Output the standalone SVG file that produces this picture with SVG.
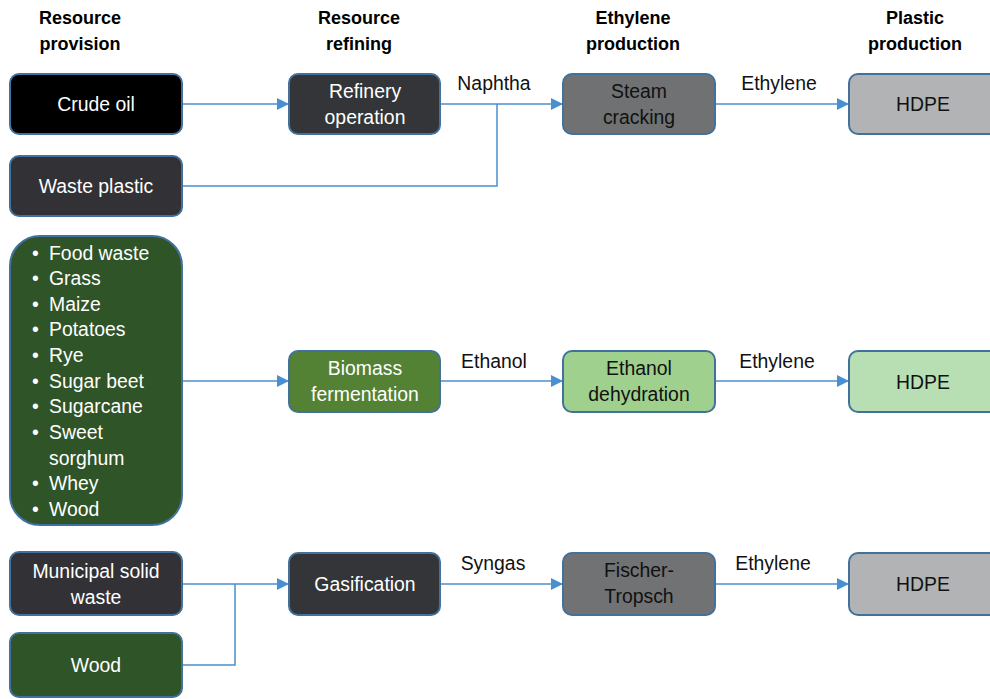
<svg xmlns="http://www.w3.org/2000/svg" width="990" height="699" viewBox="0 0 990 699">
<defs>
<marker id="arr" viewBox="0 0 10 10" refX="10" refY="5" markerWidth="12" markerHeight="12" markerUnits="userSpaceOnUse" orient="auto">
<path d="M0,0 L10,5 L0,10 z" fill="#4A8FD0"/>
</marker>
<style>
text{font-family:"Liberation Sans",Arial,sans-serif;font-size:19.4px;text-anchor:middle}
.h{font-weight:bold;fill:#000;font-size:18px}
.w{fill:#fff}
.k{fill:#111}
.lab{fill:#111}
rect{stroke:#41719C;stroke-width:2}
.c path,.c line{stroke:#4A8FD0;stroke-width:1.5;fill:none}
.li{text-anchor:start;fill:#fff}
</style>
</defs>
<rect x="0" y="0" width="990" height="699" fill="#fff" style="stroke:none"/>
<g id="headers">
<text class="h" x="80" y="24">Resource</text><text class="h" x="80" y="50">provision</text>
<text class="h" x="359" y="24">Resource</text><text class="h" x="359" y="50">refining</text>
<text class="h" x="633" y="24">Ethylene</text><text class="h" x="633" y="50">production</text>
<text class="h" x="915" y="24">Plastic</text><text class="h" x="915" y="50">production</text>
</g>
<g class="c" id="connectors">
<line x1="182" y1="104" x2="289" y2="104" marker-end="url(#arr)"/>
<path d="M182,186 H497 V104"/>
<line x1="440" y1="104" x2="563" y2="104" marker-end="url(#arr)"/>
<line x1="715" y1="104" x2="849" y2="104" marker-end="url(#arr)"/>
<line x1="182" y1="381" x2="289" y2="381" marker-end="url(#arr)"/>
<line x1="440" y1="381" x2="563" y2="381" marker-end="url(#arr)"/>
<line x1="715" y1="381" x2="849" y2="381" marker-end="url(#arr)"/>
<line x1="182" y1="584" x2="289" y2="584" marker-end="url(#arr)"/>
<path d="M182,665 H235 V584"/>
<line x1="440" y1="584" x2="563" y2="584" marker-end="url(#arr)"/>
<line x1="715" y1="584" x2="849" y2="584" marker-end="url(#arr)"/>
<text class="lab" x="494" y="90">Naphtha</text>
<text class="lab" x="779" y="90">Ethylene</text>
<text class="lab" x="494" y="368">Ethanol</text>
<text class="lab" x="777" y="368">Ethylene</text>
<text class="lab" x="493" y="570">Syngas</text>
<text class="lab" x="773" y="570">Ethylene</text>
</g>
<g id="crude-oil"><rect x="10" y="74" width="172" height="60" rx="9" fill="#000"/><text class="w" x="96" y="111">Crude oil</text></g>
<g id="waste-plastic"><rect x="10" y="156" width="172" height="60" rx="9" fill="#323236"/><text class="w" x="96" y="193">Waste plastic</text></g>
<g id="biomass-list"><rect x="10" y="236" width="172" height="289" rx="30" fill="#2F5427"/>
<text class="li" x="32" y="260">•</text><text class="li" x="49" y="260">Food waste</text>
<text class="li" x="32" y="285">•</text><text class="li" x="49" y="285">Grass</text>
<text class="li" x="32" y="311">•</text><text class="li" x="49" y="311">Maize</text>
<text class="li" x="32" y="336">•</text><text class="li" x="49" y="336">Potatoes</text>
<text class="li" x="32" y="362">•</text><text class="li" x="49" y="362">Rye</text>
<text class="li" x="32" y="388">•</text><text class="li" x="49" y="388">Sugar beet</text>
<text class="li" x="32" y="413">•</text><text class="li" x="49" y="413">Sugarcane</text>
<text class="li" x="32" y="439">•</text><text class="li" x="49" y="439">Sweet</text>
<text class="li" x="49" y="465">sorghum</text>
<text class="li" x="32" y="490">•</text><text class="li" x="49" y="490">Whey</text>
<text class="li" x="32" y="516">•</text><text class="li" x="49" y="516">Wood</text>
</g>
<g id="msw"><rect x="10" y="552" width="172" height="63" rx="9" fill="#323236"/><text class="w" x="96" y="578">Municipal solid</text><text class="w" x="96" y="604">waste</text></g>
<g id="wood"><rect x="10" y="633" width="172" height="64" rx="9" fill="#2F5427"/><text class="w" x="96" y="672">Wood</text></g>
<g id="refinery"><rect x="289" y="74" width="151" height="60" rx="9" fill="#333538"/><text class="w" x="365" y="98">Refinery</text><text class="w" x="365" y="124">operation</text></g>
<g id="biomass-fermentation"><rect x="289" y="351" width="151" height="61" rx="9" fill="#548235"/><text class="w" x="365" y="375">Biomass</text><text class="w" x="365" y="401">fermentation</text></g>
<g id="gasification"><rect x="289" y="553" width="151" height="62" rx="9" fill="#333538"/><text class="w" x="365" y="591">Gasification</text></g>
<g id="steam-cracking"><rect x="563" y="74" width="152" height="60" rx="9" fill="#6F7173"/><text class="k" x="639" y="98">Steam</text><text class="k" x="639" y="124">cracking</text></g>
<g id="ethanol-dehydration"><rect x="563" y="351" width="152" height="61" rx="9" fill="#9FD08E"/><text class="k" x="639" y="375">Ethanol</text><text class="k" x="639" y="401">dehydration</text></g>
<g id="fischer-tropsch"><rect x="563" y="553" width="152" height="62" rx="9" fill="#707274"/><text class="k" x="639" y="577">Fischer-</text><text class="k" x="639" y="603">Tropsch</text></g>
<g id="hdpe-1"><rect x="849" y="74" width="152" height="60" rx="9" fill="#B1B3B4"/><text class="k" x="923" y="111">HDPE</text></g>
<g id="hdpe-2"><rect x="849" y="351" width="152" height="61" rx="9" fill="#B8DFB3"/><text class="k" x="923" y="389">HDPE</text></g>
<g id="hdpe-3"><rect x="849" y="553" width="152" height="62" rx="9" fill="#B1B3B4"/><text class="k" x="923" y="591">HDPE</text></g>
</svg>
